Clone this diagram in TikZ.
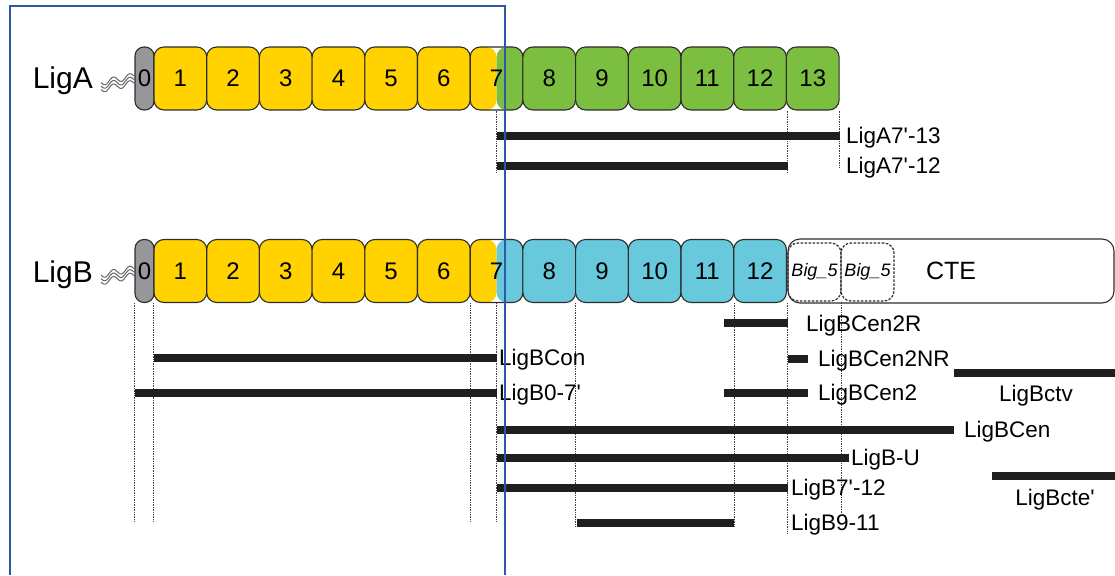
\documentclass[tikz,border=0pt]{standalone}
\usepackage{fontspec}
\setmainfont{Liberation Sans}

\definecolor{ligyellow}{RGB}{255,210,0}
\definecolor{liggreen}{RGB}{124,190,64}
\definecolor{ligcyan}{RGB}{104,200,220}
\definecolor{liggray}{RGB}{150,150,155}
\definecolor{boxline}{RGB}{45,45,45}
\definecolor{framecol}{RGB}{48,86,166}

\newcommand{\prm}{\textquotesingle}

\begin{document}
\begin{tikzpicture}[x=1pt,y=-1pt,
    box/.style={draw=boxline, line width=1.1pt, rounded corners=10pt,
        minimum width=52.7pt, minimum height=63pt, inner sep=0pt,
        font=\fontsize{24}{28}\selectfont},
    split/.style 2 args={path picture={
        \fill[#1] (path picture bounding box.south west) rectangle (path picture bounding box.north);
        \fill[#2] (path picture bounding box.south) rectangle (path picture bounding box.north east);}},
    bigbox/.style={draw=boxline, line width=1.2pt, dash pattern=on 2.5pt off 1.5pt,
        rounded corners=10pt, minimum width=53pt, minimum height=58pt, inner sep=0pt,
        font=\fontsize{18}{21}\selectfont\itshape},
    rowlbl/.style={inner sep=0pt, anchor=base east, font=\fontsize{30}{34}\selectfont},
    lbl/.style={inner sep=0pt, anchor=base west, font=\fontsize{22.5}{26}\selectfont},
    bar/.style={line width=8pt, black!88},
    guide/.style={densely dotted, line width=0.7pt, black!75},
    wave/.style={line width=1pt, black!60},
    frame/.style={line width=2.2pt, framecol}]

    \useasboundingbox (0,0) rectangle (1115,575);

    % Domains
    \node[box, draw=boxline, fill=white, rounded corners=12pt, minimum width=326pt,
        minimum height=64pt, font=\fontsize{25}{28}\selectfont] (cte) at (951,271) {CTE};
    \foreach \r/\yy/\col/\last in {a/78.5/liggreen/13, b/271/ligcyan/12} {
        \node[box, fill=liggray, minimum width=19pt, rounded corners=9pt] (\r0) at (144.5,\yy) {0};
        \foreach \i in {1,...,6}
            \node[box, fill=ligyellow] (\r\i) at ({154+(\i-0.5)*52.7},\yy) {\i};
        \node[box, split={ligyellow}{\col}] (\r7) at ({154+6.5*52.7},\yy) {7};
        \foreach \i in {8,...,\last}
            \node[box, fill=\col] (\r\i) at ({154+(\i-0.5)*52.7},\yy) {\i};
        % Tails
        \foreach \o in {0,3.5,7}
            \draw[wave] plot[domain=0:33, samples=60, smooth]
                ({101+\x}, {\yy+4+\o-0.2*\x+3*sin(22*\x)});
    }
    \node[bigbox] (big1) at (814.5,272) {Big\_5};
    \node[bigbox] (big2) at (867.5,272) {Big\_5};

    \node[rowlbl] (ligA) at (93,89) {LigA};
    \node[rowlbl] (ligB) at (93,282) {LigB};

    % Guides
    \foreach \from/\yy in {a7.south/172, a12.south east/172, a13.south east/168,
        b0.south west/522, b1.south west/522, b6.south east/522, b7.south/522,
        b9.south west/527, b11.south east/527, b12.south east/533, big1.south east/514}
        \draw[guide] (\from) -- (\from |- 0,\yy);

    % Constructs
    \foreach \n/\xa/\xb/\yy in {A713/497/840/136, A712/497/788/166,
        Cen2R/724/788/323, Con/154/497/358, Cen2NR/788/808/359, ctv/954/1115/373,
        B07/135/497/393, Cen2/724/808/393, Cen/497/954/430, BU/497/849/458,
        cte/992/1115/476, B712/497/788/488, B911/577/734/523} {
        \coordinate (\n s) at (\xa,\yy);
        \coordinate (\n e) at (\xb,\yy);
        \draw[bar] (\n s) -- (\n e);
    }

    % Labels
    \foreach \n/\xx/\yy/\txt in {lA713/846/143.5/LigA7\prm-13, lA712/846/173/LigA7\prm-12,
        lCen2R/806/331/LigBCen2R, lCon/499/365.5/LigBCon, lCen2NR/818/366/LigBCen2NR,
        lB07/499/400/LigB0-7\prm, lCen2/818/400.5/LigBCen2, lCen/964/437/LigBCen,
        lBU/851/465.5/LigB-U, lB712/791/495.5/LigB7\prm-12, lB911/791/530.5/LigB9-11}
        \node[lbl] (\n) at (\xx,\yy) {\txt};
    \node[lbl, anchor=base] (lctv) at (1036,401) {LigBctv};
    \node[lbl, anchor=base] (lcte) at (1055,505) {LigBcte\prm};

    % Frame
    \draw[frame] (10,575) -- (10,6) -- (505,6) -- (505,575);
\end{tikzpicture}
\end{document}
